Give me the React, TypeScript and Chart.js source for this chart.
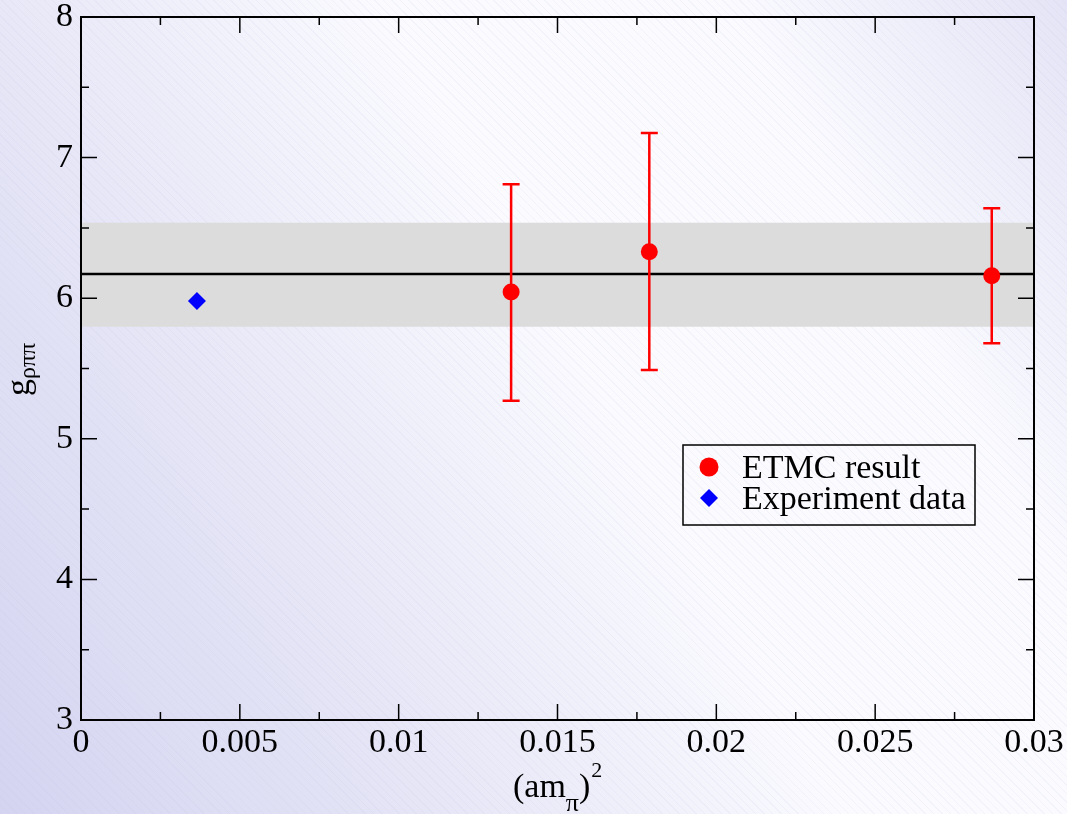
import React, { useEffect, useRef } from "react";
import { Chart, registerables } from "chart.js";

Chart.register(...registerables);

// ---- data ----
const xTickValues = [0, 0.005, 0.01, 0.015, 0.02, 0.025, 0.03];
const xTickLabels = ["0", "0.005", "0.01", "0.015", "0.02", "0.025", "0.03"];
const yTickValues = [3, 4, 5, 6, 7, 8];
const yTickLabels = ["3", "4", "5", "6", "7", "8"];

const etmcX = [0.01354, 0.01789, 0.02867];
const etmcY = [6.044, 6.331, 6.16];
const etmcLow = [5.27, 5.49, 5.68];
const etmcHigh = [6.81, 7.175, 6.64];

const expX = [0.00365];
const expY = [5.98];

const fitValue = 6.172;
const bandLow = 5.797;
const bandHigh = 6.537;

const xRange = [0, 0.03];
const yRange = [3, 8];

const legendLabels = ["ETMC result", "Experiment data"];

const FONT = "'Liberation Serif', 'Times New Roman', Times, serif";

const mids = (arr: number[]) => arr.slice(0, -1).map((v, i) => (v + arr[i + 1]) / 2);

const zeroPad = (s: any) => {
  s.paddingTop = 0;
  s.paddingBottom = 0;
  s.paddingLeft = 0;
  s.paddingRight = 0;
};

const decorPlugin = {
  id: "decor",
  beforeDatasetDraw(chart: any, args: any) {
    if (args.index !== 0) return;
    const { ctx, scales } = chart;
    const x = scales.x;
    const y = scales.y;
    ctx.save();
    ctx.strokeStyle = "#ff0000";
    ctx.lineWidth = 2.5;
    etmcX.forEach((xv, i) => {
      const px = x.getPixelForValue(xv);
      const pl = y.getPixelForValue(etmcLow[i]);
      const ph = y.getPixelForValue(etmcHigh[i]);
      ctx.beginPath();
      ctx.moveTo(px, pl);
      ctx.lineTo(px, ph);
      ctx.moveTo(px - 8.5, pl);
      ctx.lineTo(px + 8.5, pl);
      ctx.moveTo(px - 8.5, ph);
      ctx.lineTo(px + 8.5, ph);
      ctx.stroke();
    });
    ctx.restore();
  },
  afterDraw(chart: any) {
    const { ctx, chartArea, scales } = chart;
    const x = scales.x;
    const y = scales.y;
    const { left, right, top, bottom } = chartArea;
    ctx.save();
    // frame
    ctx.strokeStyle = "#000";
    ctx.lineWidth = 2;
    ctx.strokeRect(left, top, right - left, bottom - top);
    // ticks
    ctx.lineWidth = 1.5;
    const drawX = (v: number, len: number) => {
      const px = x.getPixelForValue(v);
      ctx.beginPath();
      ctx.moveTo(px, bottom);
      ctx.lineTo(px, bottom - len);
      ctx.moveTo(px, top);
      ctx.lineTo(px, top + len);
      ctx.stroke();
    };
    const drawY = (v: number, len: number) => {
      const py = y.getPixelForValue(v);
      ctx.beginPath();
      ctx.moveTo(left, py);
      ctx.lineTo(left + len, py);
      ctx.moveTo(right, py);
      ctx.lineTo(right - len, py);
      ctx.stroke();
    };
    xTickValues.forEach((v) => drawX(v, 16));
    mids(xTickValues).forEach((v) => drawX(v, 8));
    yTickValues.forEach((v) => drawY(v, 16));
    mids(yTickValues).forEach((v) => drawY(v, 8));

    // legend
    ctx.lineWidth = 1.5;
    ctx.strokeStyle = "#000";
    ctx.strokeRect(683, 445, 292, 80);
    ctx.fillStyle = "#ff0000";
    ctx.beginPath();
    ctx.arc(709, 467, 9.5, 0, Math.PI * 2);
    ctx.fill();
    ctx.fillStyle = "#0000ff";
    ctx.beginPath();
    ctx.moveTo(709, 489);
    ctx.lineTo(718, 498);
    ctx.lineTo(709, 507);
    ctx.lineTo(700, 498);
    ctx.closePath();
    ctx.fill();
    ctx.fillStyle = "#000";
    ctx.font = `34px ${FONT}`;
    ctx.textAlign = "left";
    ctx.textBaseline = "alphabetic";
    ctx.fillText(legendLabels[0], 742, 478);
    ctx.fillText(legendLabels[1], 742, 509);

    // x title: (am_pi)^2
    let cx = 513;
    const base = 797;
    ctx.font = `34px ${FONT}`;
    ctx.fillText("(am", cx, base);
    cx += ctx.measureText("(am").width;
    ctx.font = `26px ${FONT}`;
    ctx.fillText("\u03c0", cx, base + 14);
    cx += ctx.measureText("\u03c0").width;
    ctx.font = `34px ${FONT}`;
    ctx.fillText(")", cx, base);
    cx += ctx.measureText(")").width;
    ctx.font = `22px ${FONT}`;
    ctx.fillText("2", cx + 1, base - 20);

    // y title: g_rho pi pi
    ctx.translate(29, 396);
    ctx.rotate(-Math.PI / 2);
    ctx.font = `34px ${FONT}`;
    ctx.fillText("g", 0, 0);
    const gw = ctx.measureText("g").width;
    ctx.font = `24px ${FONT}`;
    ctx.fillText("\u03c1\u03c0\u03c0", gw, 6);
    ctx.restore();
  },
};

export default function App() {
  const canvasRef = useRef<HTMLCanvasElement | null>(null);

  useEffect(() => {
    if (!canvasRef.current) return;
    const chart = new Chart(canvasRef.current, {
      type: "scatter",
      data: {
        datasets: [
          {
            label: legendLabels[0],
            data: etmcX.map((v, i) => ({ x: v, y: etmcY[i] })),
            pointStyle: "circle",
            pointRadius: 8.5,
            backgroundColor: "#ff0000",
            borderWidth: 0,
            showLine: false,
          },
          {
            label: legendLabels[1],
            data: expX.map((v, i) => ({ x: v, y: expY[i] })),
            pointStyle: "rectRot",
            pointRadius: 9,
            backgroundColor: "#0000ff",
            borderWidth: 0,
            showLine: false,
          },
          {
            label: "fit",
            data: xRange.map((v) => ({ x: v, y: fitValue })),
            showLine: true,
            borderColor: "#000",
            borderWidth: 2.5,
            pointRadius: 0,
            fill: false,
          },
          {
            label: "band high",
            data: xRange.map((v) => ({ x: v, y: bandHigh })),
            showLine: true,
            borderWidth: 0,
            borderColor: "rgba(0,0,0,0)",
            pointRadius: 0,
            backgroundColor: "#dcdcdc",
            fill: "+1",
          },
          {
            label: "band low",
            data: xRange.map((v) => ({ x: v, y: bandLow })),
            showLine: true,
            borderWidth: 0,
            borderColor: "rgba(0,0,0,0)",
            pointRadius: 0,
            fill: false,
          },
        ],
      },
      options: {
        responsive: false,
        animation: false,
        events: [],
        layout: { padding: { left: 0, top: 17, right: 33, bottom: 0 } },
        plugins: {
          legend: { display: false },
          tooltip: { enabled: false },
        },
        scales: {
          x: {
            type: "linear",
            min: xRange[0],
            max: xRange[1],
            afterBuildTicks: (s: any) => {
              s.ticks = xTickValues.map((v) => ({ value: v }));
            },
            afterFit: (s: any) => {
              s.height = 94;
              zeroPad(s);
            },
            grid: { display: false, drawTicks: false },
            border: { display: false },
            ticks: {
              callback: (_v: any, i: number) => xTickLabels[i],
              font: { family: FONT, size: 34, lineHeight: 1 },
              color: "#000",
              padding: 6,
              maxRotation: 0,
              autoSkip: false,
            },
          },
          y: {
            type: "linear",
            min: yRange[0],
            max: yRange[1],
            afterBuildTicks: (s: any) => {
              s.ticks = yTickValues.map((v) => ({ value: v }));
            },
            afterFit: (s: any) => {
              s.width = 81;
              zeroPad(s);
            },
            grid: { display: false, drawTicks: false },
            border: { display: false },
            ticks: {
              callback: (_v: any, i: number) => yTickLabels[i],
              font: { family: FONT, size: 34, lineHeight: 1 },
              color: "#000",
              padding: 8,
              autoSkip: false,
            },
          },
        },
      },
      plugins: [decorPlugin],
    } as any);
    return () => chart.destroy();
  }, []);

  return (
    <div
      style={{
        position: "absolute",
        left: 0,
        top: 0,
        width: 1067,
        height: 814,
        background:
          "repeating-linear-gradient(45deg, rgba(190,190,225,0.12) 0px, rgba(190,190,225,0.12) 1px, rgba(255,255,255,0) 1px, rgba(255,255,255,0) 6px), linear-gradient(60deg, #d4d4f1 0%, #e7e7f7 30%, #fafaff 55%, #fafaff 78%, #e4e4f6 100%)",
      }}
    >
      <canvas ref={canvasRef} width={1067} height={814} style={{ display: "block" }} />
    </div>
  );
}
